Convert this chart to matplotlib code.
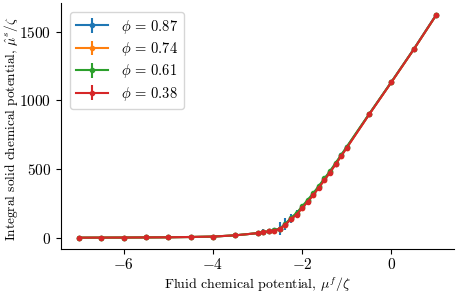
import matplotlib
matplotlib.use("Agg")
import matplotlib.pyplot as plt
import numpy as np

plt.rcParams['font.family'] = 'serif'
plt.rcParams['font.serif'] = ['cmr10', 'DejaVu Serif']
plt.rcParams['mathtext.fontset'] = 'cm'
plt.rcParams['axes.formatter.use_mathtext'] = True
plt.rcParams['font.size'] = 10

mu = [-7, -6.5, -6, -5.5, -5, -4.5, -4, -3.5, -3, -2.875, -2.75, -2.625, -2.5,
      -2.375, -2.25, -2.125, -2.0, -1.875, -1.75, -1.625, -1.5, -1.375, -1.25,
      -1.125, -1.0, -0.5, 0, 0.5, 1.0]

labels = [r'$\phi\,=\,0.87$', r'$\phi\,=\,0.74$', r'$\phi\,=\,0.61$', r'$\phi\,=\,0.38$']
colors = ['#1f77b4', '#ff7f0e', '#2ca02c', '#d62728']

mus_087 = [0, 0.5, 1, 2, 3, 5, 8, 17, 33, 40, 46, 54, 66, 100, 140, 175, 222,
           268, 318, 372, 428, 482, 540, 600, 660, 900, 1136, 1375, 1625]
err_087 = [1, 1, 1, 1, 1, 1, 1, 2, 4, 22, 20, 16, 48, 42, 32, 26, 16, 12, 12,
           10, 8, 8, 6, 6, 5, 4, 4, 4, 4]
mus_074 = [0, 0.5, 1, 2, 3, 5, 8, 17, 33, 40, 46, 52, 64, 96, 136, 170, 218,
           265, 314, 368, 423, 478, 538, 597, 657, 899, 1134, 1373, 1622]
err_074 = [1, 1, 1, 1, 1, 1, 1, 1, 2, 3, 3, 3, 4, 4, 4, 4, 3, 3, 3, 3, 3, 3,
           3, 3, 3, 3, 3, 3, 3]
mus_061 = [0, 0.5, 1, 2, 3, 5, 8, 17, 33, 40, 46, 53, 66, 100, 145, 180, 228,
           276, 325, 378, 432, 486, 545, 604, 664, 902, 1136, 1374, 1622]
err_061 = [1, 1, 1, 1, 1, 1, 1, 1, 2, 3, 3, 3, 4, 4, 4, 4, 3, 3, 3, 3, 3, 3,
           3, 3, 3, 3, 3, 3, 3]
mus_038 = [0, 0.5, 1, 2, 3, 5, 8, 17, 33, 40, 46, 52, 64, 95, 135, 168, 215,
           262, 310, 365, 420, 475, 535, 595, 655, 898, 1134, 1373, 1622]
err_038 = [1, 1, 1, 1, 1, 1, 1, 1, 2, 3, 3, 3, 4, 4, 4, 4, 3, 3, 3, 3, 3, 3,
           3, 3, 3, 3, 3, 3, 3]

series = [(mus_087, err_087), (mus_074, err_074), (mus_061, err_061), (mus_038, err_038)]

fig = plt.figure(figsize=(4.57, 2.95), dpi=100)
ax = fig.add_subplot(111)
fig.subplots_adjust(left=61/457, right=454/457, top=1-3/295, bottom=1-249/295)

for (vals, err), lab, c in zip(series, labels, colors):
    ax.errorbar(mu, vals, yerr=err, color=c, label=lab, marker='o', markersize=3,
                linewidth=1.5, elinewidth=1.5)

ax.set_xlabel(r'Fluid chemical potential, $\mu^f/\zeta$', fontsize=10, labelpad=2)
ax.set_ylabel(r'Integral solid chemical potential, $\hat{\mu}^s/\zeta$', fontsize=9.6)
ax.yaxis.set_label_coords(-0.105, 0.49)
ax.set_xticks([-6, -4, -2, 0])
ax.set_yticks([0, 500, 1000, 1500])
ax.tick_params(labelsize=11)
ax.tick_params(axis='x', pad=2.5)
ax.spines['top'].set_visible(False)
ax.spines['right'].set_visible(False)
ax.legend(loc='upper left', fontsize=10.5, labelspacing=0.3, handlelength=2.2,
          handletextpad=0.9, borderaxespad=0.6)

fig.savefig('out.png', dpi=100)
